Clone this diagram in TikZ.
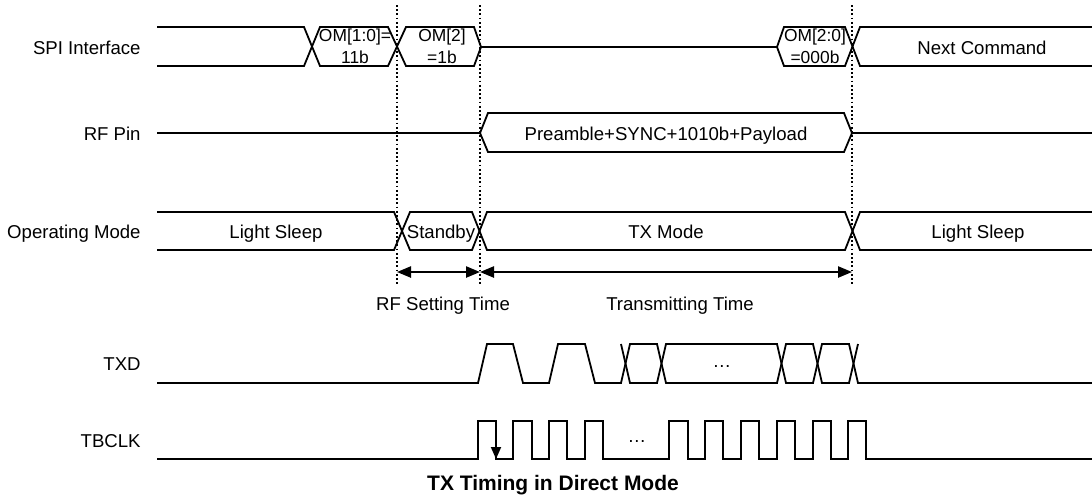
\documentclass[tikz,border=0pt]{standalone}
\usepackage{fontspec}
\setmainfont{Liberation Sans}
\usetikzlibrary{arrows.meta}
\begin{document}
\begin{tikzpicture}[x=0.5pt,y=-0.5pt,
  sig/.style={line width=0.9pt,line join=miter},
  vdotline/.style={line width=1pt,dash pattern=on 0.9pt off 1.2pt},
  timearrow/.style={line width=0.9pt,{Triangle[length=7pt,width=5.6pt]}-{Triangle[length=7pt,width=5.6pt]}},
  rowlabel/.style={anchor=base east,inner sep=0pt,font=\fontsize{9.3}{11}\selectfont},
  boxtext/.style={anchor=base,inner sep=0pt,font=\fontsize{9.3}{11}\selectfont},
  smalltext/.style={anchor=base,inner sep=0pt,font=\fontsize{8.7}{11}\selectfont},
  titletext/.style={anchor=base,inner sep=0pt,font=\bfseries\fontsize{10.5}{12}\selectfont}]
\useasboundingbox (0,0) rectangle (1092,495);

% row labels
\node[rowlabel] (lspi) at (141,54) {SPI Interface};
\node[rowlabel] (lrf) at (141,140) {RF Pin};
\node[rowlabel] (lop) at (141,238) {Operating Mode};
\node[rowlabel] (ltxd) at (141,370) {TXD};
\node[rowlabel] (lclk) at (141,447) {TBCLK};

% dotted markers
\coordinate (d1t) at (397,5);  \coordinate (d1b) at (397,285);
\coordinate (d2t) at (480,5);  \coordinate (d2b) at (480,285);
\coordinate (d3t) at (852,5);  \coordinate (d3b) at (852,285);
\draw[vdotline] (d1t) -- (d1b);
\draw[vdotline] (d2t) -- (d2b);
\draw[vdotline] (d3t) -- (d3b);

% SPI Interface bus
\draw[sig] (157,27) -- (304,27) -- (320,66) -- (388,66) -- (406,27) -- (474,27) -- (481,47)
  -- (777,47) -- (784,27) -- (845,27) -- (860,66) -- (1092,66);
\draw[sig] (157,66) -- (304,66) -- (320,27) -- (388,27) -- (406,66) -- (474,66) -- (481,47);
\draw[sig] (777,47) -- (784,66) -- (845,66) -- (860,27) -- (1092,27);
\node[smalltext] (om10a) at (355,41) {OM[1:0]=};
\node[smalltext] (om10b) at (355,63) {11b};
\node[smalltext] (om2a) at (442,41) {OM[2]};
\node[smalltext] (om2b) at (442,63) {=1b};
\node[smalltext] (om20a) at (815,41) {OM[2:0]};
\node[smalltext] (om20b) at (815,63) {=000b};
\node[boxtext] (nextcmd) at (982,54) {Next Command};

% RF Pin
\draw[sig] (157,133) -- (480,133) -- (488,113) -- (844,113) -- (852,133) -- (1092,133);
\draw[sig] (480,133) -- (488,152) -- (844,152) -- (852,133);
\node[boxtext] (payload) at (666,140) {Preamble+SYNC+1010b+Payload};

% Operating Mode
\draw[sig] (157,212) -- (394,212) -- (410,250) -- (472,250) -- (487,212) -- (845,212) -- (860,250) -- (1092,250);
\draw[sig] (157,250) -- (394,250) -- (410,212) -- (472,212) -- (487,250) -- (845,250) -- (860,212) -- (1092,212);
\node[boxtext] (ls1) at (276,238) {Light Sleep};
\node[boxtext] (stby) at (441,238) {Standby};
\node[boxtext] (txm) at (666,238) {TX Mode};
\node[boxtext] (ls2) at (978,238) {Light Sleep};

% time arrows
\coordinate (a1) at (397,272);
\coordinate (a2) at (480,272);
\coordinate (a3) at (852,272);
\draw[timearrow] (a1) -- (a2);
\draw[timearrow] (a2) -- (a3);
\node[boxtext] (rfset) at (443,310) {RF Setting Time};
\node[boxtext] (txtime) at (680,310) {Transmitting Time};

% TXD
\draw[sig] (157,383) -- (478,383) -- (487,344) -- (513,344) -- (523,383) -- (549,383) -- (558,344)
  -- (585,344) -- (595,383) -- (621,383) -- (630,344) -- (657,344) -- (666,383) -- (777,383)
  -- (786,344) -- (813,344) -- (822,383) -- (849,383) -- (858,344);
\draw[sig] (621,344) -- (630,383) -- (657,383) -- (666,344) -- (777,344) -- (786,383) -- (813,383)
  -- (822,344) -- (849,344) -- (858,383) -- (1092,383);
\node[boxtext] (txddots) at (722,367) {…};

% TBCLK
\draw[sig] (157,459) -- (478,459) -- (478,421) -- (496,421) -- (496,459) -- (513,459) -- (513,421)
  -- (532,421) -- (532,459) -- (549,459) -- (549,421) -- (567,421) -- (567,459) -- (585,459)
  -- (585,421) -- (603,421) -- (603,459) -- (669,459) -- (669,421) -- (688,421) -- (688,459)
  -- (705,459) -- (705,421) -- (723,421) -- (723,459) -- (741,459) -- (741,421) -- (759,421)
  -- (759,459) -- (777,459) -- (777,421) -- (795,421) -- (795,459) -- (813,459) -- (813,421)
  -- (831,421) -- (831,459) -- (848,459) -- (848,421) -- (866,421) -- (866,459) -- (1092,459);
\coordinate (clkhi) at (496,421);
\coordinate (clklo) at (496,459);
\draw[line width=0.9pt,-{Triangle[length=6pt,width=5pt]}] (clkhi) -- (clklo);
\node[boxtext] (clkdots) at (637,442) {…};

% title
\node[titletext] (title) at (553,490) {TX Timing in Direct Mode};
\end{tikzpicture}
\end{document}
